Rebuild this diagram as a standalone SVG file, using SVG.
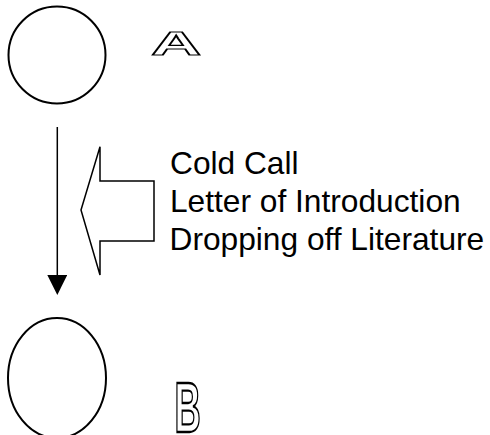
<svg xmlns="http://www.w3.org/2000/svg" width="490" height="435" viewBox="0 0 490 435">
<defs>
<style>
.node{fill:#fff;stroke:#000;stroke-width:2}
.line{fill:none;stroke:#000;stroke-width:1.5}
.lbl{font-family:"Liberation Sans",Arial,sans-serif;font-size:31.7px;fill:#000}
.hollow{font-family:"Liberation Sans",Arial,sans-serif;font-weight:bold;fill:#fff;stroke:#000;stroke-width:1.8;stroke-linejoin:miter}
</style>
<marker id="ah" viewBox="0 0 20 20" refX="0" refY="10" markerWidth="20" markerHeight="20" markerUnits="userSpaceOnUse" orient="auto">
<path d="M0,0 L20,10 L0,20 Z" fill="#000"/>
</marker>
</defs>
<rect width="490" height="435" fill="#fff"/>
<g id="node-a">
<circle class="node" cx="57" cy="55" r="48.5"/>
<text class="hollow" font-size="33.5" transform="translate(151,55) scale(2.08,1)" vector-effect="non-scaling-stroke">A</text>
</g>
<g id="node-b">
<ellipse class="node" cx="57" cy="378" rx="49" ry="60"/>
<text class="hollow" font-size="70" transform="translate(174.5,431.5) scale(0.52,1)" vector-effect="non-scaling-stroke">B</text>
</g>
<g id="connectors">
<line class="line" x1="57.3" y1="127" x2="57.3" y2="275" marker-end="url(#ah)"/>
</g>
<g id="methods">
<polygon class="line" points="81,210 100,146.7 100,181 154,181 154,241 100,241 100,275"/>
<text class="lbl" x="170" y="174">Cold Call</text>
<text class="lbl" x="170" y="212">Letter of Introduction</text>
<text class="lbl" x="169.5" y="250">Dropping off Literature</text>
</g>
</svg>
